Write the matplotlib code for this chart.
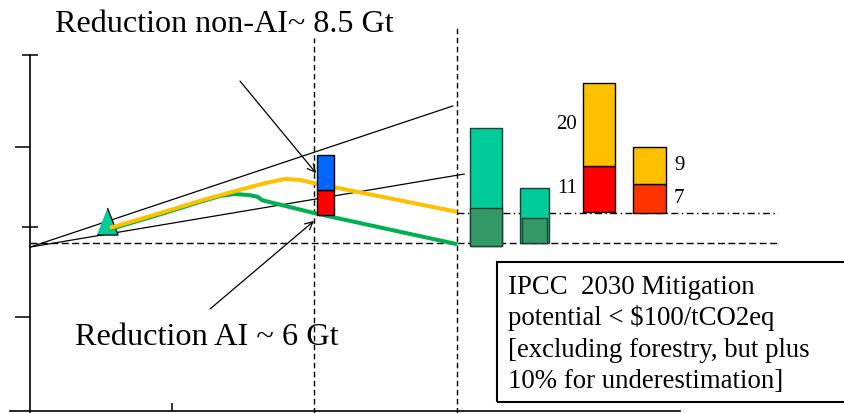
import matplotlib.pyplot as plt
from matplotlib.patches import Rectangle

plt.rcParams["font.family"] = ["Liberation Serif", "DejaVu Serif"]

# emission pathways, GtCO2eq per year
years_high = [1981.2, 1988.3, 1994.2, 1999.5, 2003.0, 2005.8, 2007.9, 2009.9, 2030.0]
emis_high = [44.1, 47.7, 50.8, 53.3, 54.9, 55.9, 55.7, 54.9, 48.0]
years_low = [1981.2, 1988.3, 1993.9, 1996.7, 1998.8, 2000.9, 2002.0, 2002.6, 2009.9, 2030.0]
emis_low = [43.8, 47.4, 50.4, 51.8, 52.3, 52.0, 51.6, 50.8, 47.7, 40.2]

# historical point and growth fan
base_year, base_emis = 1970, 39.5
marker_year, marker_emis = 1980.8, 45.9
fan_end_years = [2029.4, 2031.0]
fan_end_emis = [73.5, 57.1]

# reference levels
stab_level = 40.5
bau_level = 47.7
level_end = 2075.1

# reductions needed by 2010
red_year, red_width, red_bottom = 2011.5, 2.4, 47.2
red_ai = 6.0
red_non_ai = 8.5

# 2030 mitigation potential bars
green_x = [2034.1, 2040.9]
green_w = [4.5, 4.1]
green_bottom = [39.8, 40.5]
green_low = [9.1, 6.0]
green_total = [28.4, 13.2]
pot_x = [2050.0, 2057.0]
pot_w = [4.5, 4.6]
pot_bottom = [48.0, 47.7]
pot_low = [11, 7]
pot_high = [20, 9]

box_lines = ["IPCC  2030 Mitigation",
             "potential < $100/tCO2eq",
             "[excluding forestry, but plus",
             "10% for underestimation]"]

fig = plt.figure(figsize=(8.44, 4.13), dpi=100)
ax = fig.add_axes([0, 0, 1, 1])
ax.set_xlim(1965.78, 2084.37)
ax.set_ylim(-0.48, 99.04)

# axes
for s in ["top", "right"]:
    ax.spines[s].set_visible(False)
ax.spines["left"].set_position(("data", 1970))
ax.spines["left"].set_bounds(-0.5, 85.8)
ax.spines["bottom"].set_position(("data", 0))
ax.spines["bottom"].set_bounds(1967.2, 2061.3)
for s in ["left", "bottom"]:
    ax.spines[s].set_linewidth(1.2)
ax.set_yticks([44.3, 85.8])
ax.set_yticks([22.7, 63.6], minor=True)
ax.set_xticks([1990])
ax.tick_params(axis="y", which="major", direction="inout", length=12, width=1.1,
               labelleft=False)
ax.tick_params(axis="y", which="minor", direction="out", length=11, width=1.1)
ax.tick_params(axis="x", direction="in", length=6, width=1.1, labelbottom=False)

# reference lines
ax.plot([2009.9, 2009.9], [-0.5, 89.9], color="black", lw=1, ls=(0, (4, 2.5)), zorder=1)
ax.plot([2030.0, 2030.0], [-0.5, 92.3], color="black", lw=1, ls=(0, (4, 2.5)), zorder=1)
ax.plot([base_year, level_end], [stab_level, stab_level], color="black", lw=1,
        ls=(0, (5, 2.5)), zorder=1)
ax.plot([2030.0, level_end], [bau_level, bau_level], color="black", lw=1,
        ls=(0, (5, 2.5, 1, 2.5)), zorder=1)

# growth fan
for ye, ee in zip(fan_end_years, fan_end_emis):
    ax.plot([base_year, ye], [base_emis, ee], color="black", lw=0.9, zorder=2)

ax.plot([marker_year], [marker_emis], marker=[(-0.78, -1), (0.78, -1), (0, 1)],
        ms=19.5, color="#00CC99", mec="black", mew=0.9, zorder=3)

ax.plot(years_low, emis_low, color="#00B050", lw=2.9, solid_capstyle="butt", zorder=4)
ax.plot(years_high, emis_high, color="#FFC000", lw=2.9, solid_capstyle="butt", zorder=5)

# reduction bar
ax.bar(red_year, red_ai, red_width, bottom=red_bottom, color="#FF0000",
       edgecolor="black", lw=1, zorder=6)
ax.bar(red_year, red_non_ai, red_width, bottom=red_bottom + red_ai, color="#0066FF",
       edgecolor="black", lw=1, zorder=6)

# mitigation potential bars
ax.bar(green_x[0], green_total[0], green_w[0], bottom=green_bottom[0], color="#00CC99",
       edgecolor="#1f3d33", lw=1, zorder=6)
ax.bar(green_x[0], green_low[0], green_w[0], bottom=green_bottom[0], color="#339966",
       edgecolor="#1f3d33", lw=1, zorder=7)
ax.bar(green_x[1], green_total[1], green_w[1], bottom=green_bottom[1], color="#00CC99",
       edgecolor="#1f3d33", lw=1, zorder=6)
ax.bar(green_x[1], green_low[1], green_w[1] - 0.6, bottom=green_bottom[1], color="#339966",
       edgecolor="#1f3d33", lw=1, zorder=7)

red_cols = ["#FF0000", "#FF3300"]
for i in range(2):
    ax.bar(pot_x[i], pot_low[i], pot_w[i], bottom=pot_bottom[i], color=red_cols[i],
           edgecolor="black", lw=1, zorder=6)
    ax.bar(pot_x[i], pot_high[i], pot_w[i], bottom=pot_bottom[i] + pot_low[i],
           color="#FFC000", edgecolor="black", lw=1, zorder=6)

# value labels beside the potential bars
left_edge = pot_x[0] - pot_w[0] / 2 - 0.85
ax.text(left_edge, pot_bottom[0] + pot_low[0] / 2, str(pot_low[0]), ha="right",
        va="center", fontsize=15)
ax.text(left_edge, pot_bottom[0] + pot_low[0] + pot_high[0] / 2, str(pot_high[0]),
        ha="right", va="center", fontsize=15)
right_edge = pot_x[1] + pot_w[1] / 2 + 1.2
ax.text(right_edge, pot_bottom[1] + pot_low[1] / 2, str(pot_low[1]), ha="left",
        va="center", fontsize=15)
ax.text(right_edge, pot_bottom[1] + pot_low[1] + pot_high[1] / 2, str(pot_high[1]),
        ha="left", va="center", fontsize=15)

# annotations
ax.text(1973.5, 91.3, "Reduction non-AI~ 8.5 Gt", fontsize=23.1, va="baseline")
ax.annotate("", xy=(2010.2, 57.3), xytext=(1999.5, 79.5),
            arrowprops=dict(arrowstyle="->", lw=0.9, color="black",
                            shrinkA=0, shrinkB=0, mutation_scale=14))
ax.text(1976.3, 15.9, "Reduction AI ~ 6 Gt", fontsize=23.2, va="baseline", zorder=8)
ax.annotate("", xy=(2009.9, 45.8), xytext=(1995.3, 24.6),
            arrowprops=dict(arrowstyle="->", lw=0.9, color="black",
                            shrinkA=0, shrinkB=0, mutation_scale=14))

# IPCC box
ax.add_patch(Rectangle((2035.6, 2.2), 60, 33.7, fill=False, edgecolor="black",
                       lw=1.5, zorder=8))
for i, line in enumerate(box_lines):
    ax.text(2037.2, 28.2 - i * 7.54, line, fontsize=19.3, va="baseline", zorder=9)

fig.savefig("out.png", dpi=100)
